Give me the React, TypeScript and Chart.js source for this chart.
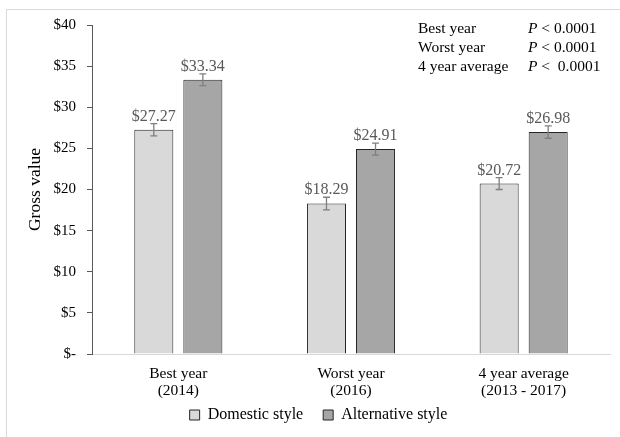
import { useEffect, useRef } from "react";
import { Chart, registerables } from "chart.js";

Chart.register(...registerables);

const categories = [
  ["Best year", "(2014)"],
  ["Worst year", "(2016)"],
  ["4 year average", "(2013 - 2017)"],
];
const domesticValues = [27.27, 18.29, 20.72];
const alternativeValues = [33.34, 24.91, 26.98];
const domesticErrors = [0.74, 0.77, 0.72];
const alternativeErrors = [0.71, 0.72, 0.75];
const seriesNames = ["Domestic style", "Alternative style"];
const yTickMax = 40;
const yTickStep = 5;
const significanceLabels = ["Best year", "Worst year", "4 year average"];
const significanceValues = [" < 0.0001", " < 0.0001", " <  0.0001"];

const SERIF = "'Liberation Serif', 'Times New Roman', serif";

const errorBarsPlugin = {
  id: "errorBars",
  afterDatasetsDraw(chart: any) {
    const { ctx } = chart;
    const yScale = chart.scales.y;
    const errorSets = [domesticErrors, alternativeErrors];
    chart.data.datasets.forEach((ds: any, di: number) => {
      const meta = chart.getDatasetMeta(di);
      meta.data.forEach((bar: any, i: number) => {
        const v = ds.data[i];
        const e = errorSets[di][i];
        const top = yScale.getPixelForValue(v + e);
        const bottom = yScale.getPixelForValue(v - e);
        const x = bar.x;
        ctx.save();
        ctx.strokeStyle = "#7f7f7f";
        ctx.lineWidth = 1.3;
        ctx.beginPath();
        ctx.moveTo(x, top);
        ctx.lineTo(x, bottom);
        ctx.moveTo(x - 3.5, top);
        ctx.lineTo(x + 3.5, top);
        ctx.moveTo(x - 3.5, bottom);
        ctx.lineTo(x + 3.5, bottom);
        ctx.stroke();
        // value label above the error bar
        ctx.fillStyle = "#595959";
        ctx.font = `16px ${SERIF}`;
        ctx.textAlign = "center";
        ctx.textBaseline = "alphabetic";
        ctx.fillText("$" + v.toFixed(2), x, top - 3);
        ctx.restore();
      });
    });
  },
};

const significancePlugin = {
  id: "significance",
  afterDraw(chart: any) {
    const { ctx } = chart;
    const labelX = 418;
    const pX = 528;
    const baselines = [33, 52, 71];
    ctx.save();
    ctx.fillStyle = "#000";
    ctx.textBaseline = "alphabetic";
    ctx.textAlign = "left";
    significanceLabels.forEach((label, i) => {
      ctx.font = `15.5px ${SERIF}`;
      ctx.fillText(label, labelX, baselines[i]);
      ctx.font = `italic 15.5px ${SERIF}`;
      ctx.fillText("P", pX, baselines[i]);
      const w = ctx.measureText("P").width;
      ctx.font = `15.5px ${SERIF}`;
      ctx.fillText(significanceValues[i], pX + w, baselines[i]);
    });
    ctx.restore();
  },
};

// The category labels take two lines; give the x axis enough room below
// its line so the second line is not clipped when the labels are drawn.
const xLabelRoomPlugin = {
  id: "xLabelRoom",
  afterLayout(chart: any) {
    const x = chart.scales.x;
    x.bottom = x.top + 52;
  },
};

export default function App() {
  const canvasRef = useRef<HTMLCanvasElement | null>(null);

  useEffect(() => {
    const canvas = canvasRef.current;
    if (!canvas) return;
    const chart = new Chart(canvas, {
      type: "bar",
      data: {
        labels: categories,
        datasets: [
          {
            label: seriesNames[0],
            data: domesticValues,
            backgroundColor: "#d9d9d9",
            borderColor: "#262626",
            borderWidth: 1,
            categoryPercentage: 0.568,
            barPercentage: 0.796,
          },
          {
            label: seriesNames[1],
            data: alternativeValues,
            backgroundColor: "#a6a6a6",
            borderColor: "#262626",
            borderWidth: 1,
            categoryPercentage: 0.568,
            barPercentage: 0.796,
          },
        ],
      },
      options: {
        responsive: false,
        animation: false,
        devicePixelRatio: 1,
        layout: { padding: { top: 25, right: 10, left: 27, bottom: 4 } },
        plugins: {
          tooltip: { enabled: false },
          legend: {
            position: "bottom",
            labels: {
              boxWidth: 10,
              boxHeight: 10,
              padding: 20,
              color: "#000",
              font: { family: SERIF, size: 16 },
            },
          },
        },
        scales: {
          x: {
            grid: { display: false },
            border: { display: true, color: "#d9d9d9", width: 1 },
            ticks: {
              color: "#000",
              padding: 3,
              font: { family: SERIF, size: 15.5, lineHeight: 1.1 },
              maxRotation: 0,
              autoSkip: false,
            },
            afterFit(scale: any) {
              scale.height = 33;
            },
          },
          y: {
            min: 0,
            max: yTickMax,
            ticks: {
              stepSize: yTickStep,
              color: "#000",
              padding: 11,
              font: { family: SERIF, size: 15 },
              callback: (v: any) => (Number(v) === 0 ? "$-" : "$" + v),
            },
            grid: {
              drawOnChartArea: false,
              drawTicks: true,
              tickLength: 5,
              color: "#595959",
            },
            border: { display: true, color: "#595959", width: 1 },
            title: {
              display: true,
              text: "Gross value",
              color: "#000",
              font: { family: SERIF, size: 17.5, lineHeight: 0.9 },
              padding: { top: 1, bottom: 0 },
            },
            afterFit(scale: any) {
              scale.width = 65;
            },
          },
        },
      },
      plugins: [errorBarsPlugin, significancePlugin, xLabelRoomPlugin],
    });
    return () => chart.destroy();
  }, []);

  return (
    <div
      style={{
        position: "fixed",
        left: 0,
        top: 0,
        width: 620,
        height: 437,
        overflow: "hidden",
        background: "#fff",
      }}
    >
      <canvas ref={canvasRef} width={620} height={437} style={{ display: "block" }} />
      <div
        style={{
          position: "absolute",
          left: 6,
          top: 9,
          width: 700,
          height: 500,
          border: "1px solid #d9d9d9",
          pointerEvents: "none",
        }}
      />
    </div>
  );
}
